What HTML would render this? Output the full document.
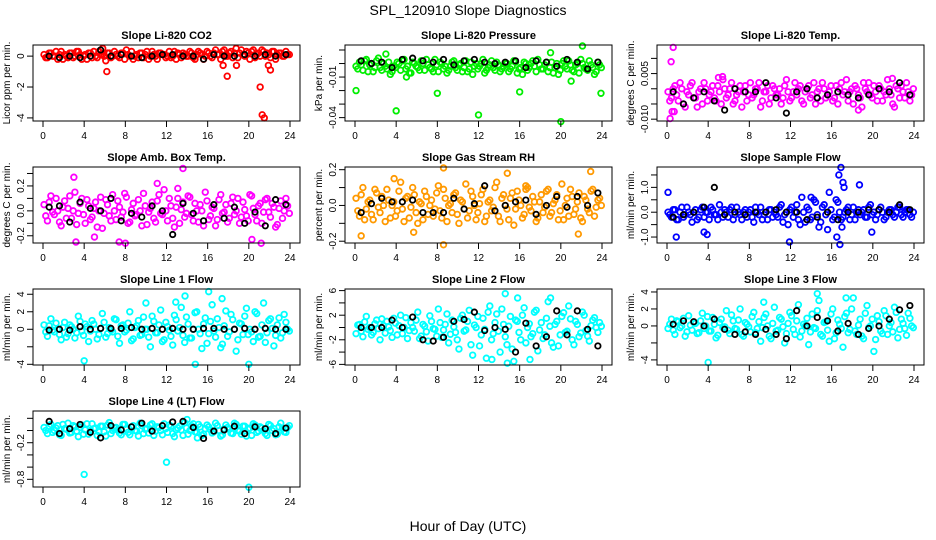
<!DOCTYPE html>
<html><head><meta charset="utf-8">
<style>
html,body{margin:0;padding:0;background:#fff;}
svg{display:block;font-family:"Liberation Sans",sans-serif;}
</style></head>
<body>
<svg id="chart" width="936" height="540" viewBox="0 0 936 540" xmlns="http://www.w3.org/2000/svg">
<text x="468" y="15" text-anchor="middle" font-size="14">SPL_120910  Slope Diagnostics</text>
<text x="468" y="531" text-anchor="middle" font-size="14">Hour of Day (UTC)</text>
</svg>
<script>
// ---- data (colored series on 20-minute grids, black series hourly) ----
const xTicks = [0,4,8,12,16,20,24];

const co2Vals = [0.1,-0.1,0.2,0.0,-0.2,0.3,0.1,-0.1,0.2,0.0,0.3,-0.2,0.1,0.2,-0.1,0.0,0.3,0.1,-0.3,0.2,0.0,0.1,-0.1,0.2,0.4,0.0,-0.2,0.1,0.2,-0.1,0.3,0.0,0.1,-0.2,0.2,0.1,0.0,-0.1,0.3,0.2,-0.1,0.1,0.0,0.2,-0.2,0.3,0.1,0.0,0.2,-0.1,0.4,0.1,0.3,0.0,0.2,-0.1,0.5,0.2,0.1,0.3,-0.2,0.4,0.1,0.0,0.3,0.2,-0.1,0.3,0.1,0.2,0.0,0.1];
const co2Vals2 = [-0.1,0.2,0.0,0.3,0.1,-0.2,0.0,0.2,-0.1,0.3,0.1,0.0,-0.2,0.2,0.3,-0.1,0.1,0.0,0.2,-0.1,0.3,0.0,0.2,-0.2,0.1,0.3,0.0,-0.1,0.2,0.1,-0.2,0.3,0.0,0.2,0.1,-0.1,0.3,0.0,-0.2,0.1,0.2,0.0,0.3,-0.1,0.1,0.2,-0.2,0.3,0.0,0.2,0.1,-0.2,0.4,0.0,0.3,0.2,-0.1,0.4,0.0,0.2,0.3,-0.1,0.2,0.4,0.0,0.1,0.3,-0.2,0.2,0.0,0.3,0.1];
const co2OutX = [5.8,6.2,17.5,17.9,18.8,21.1,21.3,21.5,21.9,22.1];
const co2OutY = [0.5,-1.0,-0.6,-1.3,-0.6,-2.0,-3.8,-4.0,-0.6,-0.9];
const co2Black = [0.0,-0.1,0.0,-0.1,0.0,0.4,0.0,0.1,0.0,-0.1,0.0,0.1,0.1,0.0,0.0,-0.2,0.1,0.0,0.0,0.1,0.0,0.1,0.0,0.1];

const presVals = [-2,1,-5,3,-1,-6,2,-3,0,-4,-8,-2,1,-5,3,-2,-7,0,-3,2,-5,-1,-4,3,-6,0,-2,-5,1,-3,-1,-6,2,-4,-8,0,-2,3,-5,-1,-3,1,-6,-2,0,-4,2,-7,-3,1,-5,0,-2,3,-4,-1,-6,1,-3,-8,0,-2,2,-5,-1,-7,0,-4,2,-3,-6,-1];
const presVals2 = [-4,-1,2,-6,0,-3,4,-5,-2,1,-6,-3,0,2,-4,-7,1,-2,-5,0,3,-3,-6,-1,1,-4,-7,-2,2,-5,0,-3,-6,1,-2,-4,0,-7,-3,2,-5,-1,-4,0,-6,-2,1,-4,-8,0,-3,2,-6,-1,-4,1,-3,-7,0,-5,2,-4,-1,-6,0,3,-3,-5,-1,-8,1,-3];
const presOutX = [0.1,4.0,8.0,12.0,16.0,20.0,22.1,23.9,3.0,19.0,21.0,5.0];
const presOutY = [-20,-35,-22,-38,-21,-43,13,-22,7,8,-13,-10];
const presBlack = [2,0,1,-3,3,4,2,1,3,-1,2,3,1,0,1,2,-3,2,1,-2,3,1,-4,1];

const tempVals = [-1,-3,1,-4,0,-6,-2,2,-3,-1,-5,0,-2,1,-4,-1,3,-3,0,-5,-2,1,-1,-4,2,-2,0,-6,-1,1,-3,0,-2,-5,1,-1,-3,2,0,-4,-1,1,-2,-5,0,2,-3,-1,-4,1,0,-2,3,-1,-5,0,-3,2,-1,-2,1,-4,0,-1,3,-2,-6,0,1,-3,-1,-2];
const tempVals2 = [-4,0,-2,2,-5,-1,1,-3,-6,0,2,-4,-1,-3,1,-5,0,-2,2,-4,-1,-6,1,-2,-3,0,2,-4,-1,-5,1,-2,0,-3,3,-4,-1,-2,1,-5,0,-3,2,-1,-4,0,-2,1,-3,-5,2,-1,-4,0,1,-2,-6,0,2,-3,-1,1,-4,-2,0,-5,1,-3,-1,2,-4,0];
const tempOutX = [0.3,0.4,0.6,5.0,5.4,21.9,0.5,0.7,18.6];
const tempOutY = [-9.8,8.9,13.6,3.7,4.0,3.4,-7.5,-7.5,-7.0];
const tempBlack = [-1,-5,-3,-1,-4,-7,0,-1,-1,2,-3,-8,-1,0,-3,-2,-1,-2,-3,-2,0,-1,2,-2];

const ambVals = [5,-8,12,-3,0,-12,8,2,-6,15,-2,10,-10,4,-5,7,0,-14,9,-4,13,-7,3,-1,11,-9,6,-3,0,14,-11,2,-6,8,-2,17,-8,4,-13,10,1,-5,12,-3,6,-9,0,15,-7,3,-12,9,-2,5,-6,11,0,-10,7,-4,13,2,-8,6,-1,10,-5,3,-11,8,0,4];
const ambVals2 = [-4,7,-1,10,-9,3,-6,12,0,-11,6,-3,9,-7,2,-13,11,-2,5,-8,0,8,-5,14,-10,1,-4,9,-12,4,-1,7,-9,13,-3,0,10,-6,3,-10,7,-2,11,-8,0,5,-12,8,-4,2,-7,13,-1,-9,6,-3,10,-5,1,-8,12,-3,4,-10,9,-1,6,-13,2,-6,10,-2];
const ambOutX = [3.0,13.6,11.1,20.3,21.2,8.0,5.0,3.2,13.1,7.4];
const ambOutY = [27,34,22,-23,-26,-26,-21,-25,18,-25];
const ambBlack = [3,4,-9,7,2,0,10,-8,-2,-5,4,0,-19,6,-2,-8,5,-6,3,-10,-1,-12,9,5];

const rhVals = [4,-6,10,-2,3,-8,7,-4,0,9,-7,2,-3,13,-9,5,-1,6,-10,1,8,-5,3,-2,11,-7,4,0,-4,7,-10,2,12,-3,5,-8,1,9,-6,3,-1,13,-9,6,-2,4,-11,8,0,-5,10,-3,2,-7,6,-1,9,-4,3,-8,12,0,-6,5,-2,7,-9,3,-4,9,-1,4];
const rhVals2 = [-3,6,-8,2,-5,9,-1,5,-9,3,0,-6,8,-2,4,-7,10,-4,2,-8,5,0,-6,7,-3,9,-9,1,6,-5,3,-2,-7,8,0,-4,6,-9,2,-3,10,-6,4,0,-8,7,-2,3,-7,9,-1,5,-9,2,-4,8,-6,1,6,-3,-8,4,9,-5,2,-7,5,-2,8,-6,3,0];
const rhOutX = [0.6,8.6,8.6,5.7,22.9,21.7,3.8,16.6,14.8];
const rhOutY = [-17,21,-22,-15,19,-16,15,11,18];
const rhBlack = [-4,1,4,2,2,3,-4,-4,-4,4,-2,1,11,-3,0,2,3,-5,0,5,-1,5,0,7];

const sfVals = [0,-2,1,-3,2,-1,0,-4,1,-2,2,0,-3,1,-1,3,-2,0,1,-3,2,-1,0,-2,1,-4,0,2,-1,-3,1,0,-2,3,-1,-5,2,0,-3,6,-4,1,-2,4,-6,2,-1,8,-3,5,0,-2,1,-3,2,0,-1,1,-2,3,0,-1,2,-3,0,1,-2,2,-1,0,1,-2];
const sfVals2 = [-1,1,-3,0,-2,2,-1,0,-3,1,-2,0,2,-1,-3,0,1,-2,2,-1,0,-3,1,0,-2,2,-1,-3,0,1,-2,-1,2,-4,0,1,-2,3,-5,0,2,-3,5,-1,-4,3,-7,1,-2,4,-3,0,2,-1,-3,1,0,-2,2,-1,-3,1,0,-2,1,-1,0,2,-2,1,-1,0];
const sfOutX = [0.1,0.9,3.6,3.9,11.9,16.9,16.7,17.1,16.8,17.2,18.7,19.9,14.0,17.0,16.5];
const sfOutY = [8,-10,-8,-9,-12,18,15,12,-13,10,11,-8,6,-6,-10];
const sfBlack = [-2,-1,0,2,10,-1,0,-1,0,0,1,0,0,-3,-2,0,-3,0,0,1,1,0,3,1];

const l1Vals = [5,-8,12,-3,0,-12,8,-5,3,-10,15,-2,6,-14,10,0,-6,18,-9,2,-3,11,-16,5,-1,20,-11,4,-7,14,0,-20,9,-4,22,-12,3,-8,16,-2,25,-15,6,-10,19,0,-22,13,-5,28,-9,2,-17,21,-3,11,-25,7,-6,24,0,-14,18,-8,30,-4,12,-19,5,-10,17,0];
const l1Vals2 = [-3,4,-1,7,-6,2,-9,5,0,-4,9,-7,3,-2,6,-11,1,8,-5,-1,12,-8,4,-3,7,-13,2,10,-6,0,-9,15,-4,5,-14,8,-1,-18,11,2,-7,14,-10,0,20,-5,6,-16,9,-2,12,-21,4,-8,17,0,-12,6,15,-6,-3,20,-9,5,-15,10,1,-7,13,-4,8,-2];
const l1OutX = [4.0,13.8,14.8,16.1,20.0,10.0,17.4,12.9];
const l1OutY = [-36,38,-40,43,-40,30,35,31];
const l1Black = [-1,0,-1,3,0,1,1,1,2,0,1,0,1,0,0,1,1,0,0,1,0,1,0,0];

const l2Vals = [-10,5,-15,18,0,-8,12,-20,3,10,-5,15,-12,20,0,-18,8,-6,25,-14,2,-22,10,-3,30,-16,5,-25,12,-8,-35,20,-4,28,-45,0,-30,15,-50,35,-10,22,-40,5,-28,18,-55,10,-20,32,0,-15,25,-38,8,-12,42,-25,5,-30,18,-8,35,-20,10,-15,25,-5,-22,12,0,8];
const l2Vals2 = [4,-6,9,-3,-12,6,-2,14,-9,1,-16,7,3,-10,16,-5,0,12,-18,5,-7,19,-2,-14,8,-4,22,-11,1,-20,15,-6,10,-28,4,18,-12,-3,25,-20,8,-6,30,-15,2,-35,12,-8,20,-25,6,-10,28,-4,-18,15,2,-32,10,-12,24,-6,14,-28,5,-9,20,-14,3,16,-8,2];
const l2OutX = [14.6,14.8,13.3,15.8,19.0,17.0];
const l2OutY = [55,-58,-52,48,48,-52];
const l2Black = [0,0,0,12,0,17,-20,-22,-16,10,13,25,-5,0,-3,-40,7,-30,-15,27,-12,27,-3,-30];

const l3Vals = [-3,8,-10,5,0,-12,12,-5,3,-8,15,0,-6,10,-14,4,-2,18,-9,6,-4,20,-12,2,-7,16,-3,-18,10,0,-15,22,-5,8,-20,3,12,-10,25,-6,0,-22,14,-3,30,-12,5,-18,20,-8,2,-25,15,-4,33,-10,8,-15,24,0,-30,12,-6,18,-10,4,22,-14,8,-3,15,0];
const l3Vals2 = [2,-5,6,-2,9,-7,1,4,-9,6,-3,11,-6,2,-11,8,-1,-5,13,-3,7,-10,4,-1,11,-8,5,-2,14,-12,3,-6,10,-1,-9,16,-4,6,-13,2,9,-7,-2,18,-10,4,-5,14,-15,7,-3,11,-8,20,-6,1,-12,15,-2,8,-16,5,-9,12,0,-7,16,-4,3,-11,9,-2];
const l3OutX = [4.0,14.6,17.4,9.4];
const l3OutY = [-43,38,33,28];
const l3Black = [2,6,5,0,8,-4,-10,-7,-10,-4,-10,-15,18,0,10,6,-6,3,-10,-3,0,8,19,24];

const l4Vals = [5,-5,10,0,8,-8,3,12,-3,6,-10,9,1,-6,11,4,-2,7,-9,13,0,5,-4,10,2,-7,8,-1,12,-5,3,9,-8,6,0,11,-3,7,-10,4,1,13,-6,8,-2,10,-8,3,6,-4,12,0,-7,9,2,-5,10,-1,7,-9,4,11,-3,6,0,-8,8,3,-6,12,-2,5];
const l4Vals2 = [0,7,-3,4,-7,10,2,-4,8,-1,5,-6,11,0,3,-8,7,-2,9,-5,4,1,-7,10,-3,6,0,-9,8,2,-4,11,-1,5,-7,3,9,-5,1,7,-8,4,0,11,-3,6,-6,9,1,-2,8,-9,3,5,-4,12,0,-6,7,2,-8,9,-1,4,-5,10,0,-7,6,3,-3,8];
const l4OutX = [4.0,12.0,20.0,14.0,15.0];
const l4OutY = [-72,-52,-93,18,-12];
const l4Black = [15,-5,3,10,-3,-12,8,1,6,12,-1,8,14,15,5,-13,-1,1,7,-5,6,3,-5,4];

const panels = [
 {name:'co2',title:'Slope Li-820 CO2',ylab:'Licor ppm per min.',col:0,row:0,color:'#ff0000',scale:1,ymin:-4.2,ymax:0.72,ticks:[0,-2,-4],labels:['0','-2','-4'],vals:co2Vals,vals2:co2Vals2,ox:co2OutX,oy:co2OutY,blk:co2Black},
 {name:'pressure',title:'Slope Li-820 Pressure',ylab:'kPa per min.',col:1,row:0,color:'#00ee00',scale:0.001,ymin:-0.0425,ymax:0.0137,ticks:[0.01,0,-0.01,-0.02,-0.03,-0.04],labels:['','','-0.01','','','-0.04'],vals:presVals,vals2:presVals2,ox:presOutX,oy:presOutY,blk:presBlack},
 {name:'temp',title:'Slope Li-820 Temp.',ylab:'degrees C per min.',col:2,row:0,color:'#ff00ff',scale:0.001,ymin:-0.0106,ymax:0.0144,ticks:[0.01,0.005,0,-0.005,-0.01],labels:['','0.005','','','-0.010'],vals:tempVals,vals2:tempVals2,ox:tempOutX,oy:tempOutY,blk:tempBlack},
 {name:'amb-box',title:'Slope Amb. Box Temp.',ylab:'degrees C per min.',col:0,row:1,color:'#ff00ff',scale:0.01,ymin:-0.258,ymax:0.352,ticks:[0.3,0.2,0.1,0,-0.1,-0.2],labels:['','0.2','','0.0','','-0.2'],vals:ambVals,vals2:ambVals2,ox:ambOutX,oy:ambOutY,blk:ambBlack},
 {name:'gas-rh',title:'Slope Gas Stream RH',ylab:'percent per min.',col:1,row:1,color:'#ff9900',scale:0.01,ymin:-0.21,ymax:0.215,ticks:[0.2,0.1,0,-0.1,-0.2],labels:['0.2','','0.0','','-0.2'],vals:rhVals,vals2:rhVals2,ox:rhOutX,oy:rhOutY,blk:rhBlack},
 {name:'sample-flow',title:'Slope Sample Flow',ylab:'ml/min per min.',col:2,row:1,color:'#0000ff',scale:0.1,ymin:-1.24,ymax:1.82,ticks:[1.5,1,0.5,0,-0.5,-1],labels:['','1.0','','0.0','','-1.0'],vals:sfVals,vals2:sfVals2,ox:sfOutX,oy:sfOutY,blk:sfBlack},
 {name:'line1',title:'Slope Line 1 Flow',ylab:'ml/min per min.',col:0,row:2,color:'#00ffff',scale:0.1,ymin:-4.08,ymax:4.6,ticks:[4,2,0,-2,-4],labels:['4','2','0','','-4'],vals:l1Vals,vals2:l1Vals2,ox:l1OutX,oy:l1OutY,blk:l1Black},
 {name:'line2',title:'Slope Line 2 Flow',ylab:'ml/min per min.',col:1,row:2,color:'#00ffff',scale:0.1,ymin:-6.1,ymax:6.26,ticks:[6,4,2,0,-2,-4,-6],labels:['6','','2','','-2','','-6'],vals:l2Vals,vals2:l2Vals2,ox:l2OutX,oy:l2OutY,blk:l2Black},
 {name:'line3',title:'Slope Line 3 Flow',ylab:'ml/min per min.',col:2,row:2,color:'#00ffff',scale:0.1,ymin:-4.6,ymax:4.35,ticks:[4,2,0,-2,-4],labels:['4','2','0','','-4'],vals:l3Vals,vals2:l3Vals2,ox:l3OutX,oy:l3OutY,blk:l3Black},
 {name:'line4',title:'Slope Line 4 (LT) Flow',ylab:'ml/min per min.',col:0,row:3,color:'#00ffff',scale:0.01,ymin:-0.926,ymax:0.32,ticks:[0.2,0,-0.2,-0.4,-0.6,-0.8],labels:['','','-0.2','','','-0.8'],vals:l4Vals,vals2:l4Vals2,ox:l4OutX,oy:l4OutY,blk:l4Black}
];

const NS='http://www.w3.org/2000/svg';
const svg=document.getElementById('chart');
function mk(tag,attrs,parent){const e=document.createElementNS(NS,tag);for(const k in attrs)e.setAttribute(k,attrs[k]);(parent||svg).appendChild(e);return e;}
const colX=[33,345,657], rowY=[45,167,289,411], W=267, H=76;

panels.forEach(p=>{
  const L=colX[p.col], T=rowY[p.row];
  const g=mk('g',{});
  
  
  const xs=h=>L+10+h*(W-20)/24;
  const ys=v=>T+(p.ymax-v)/(p.ymax-p.ymin)*H;
  const title=mk('text',{x:L+W/2,y:T-6,'text-anchor':'middle','font-size':'11','font-weight':'bold'},g);
  title.textContent=p.title;
  
  
  const yl=mk('text',{transform:`translate(${L-23},${T+H/2}) rotate(-90)`,'text-anchor':'middle','font-size':'10'},g);
  yl.textContent=p.ylab;
  
  
  const cg=mk('g',{fill:'none',stroke:p.color,'stroke-width':'1.8'},g);
  
  
  p.vals.forEach((v,i)=>{
    const c=mk('circle',{cx:xs(0.1+i/3),cy:ys(v*p.scale),r:2.8},cg);
    
    
  });
  p.vals2.forEach((v,i)=>{
    const c=mk('circle',{cx:xs(0.27+i/3),cy:ys(v*p.scale),r:2.8},cg);
    
    
  });
  p.ox.forEach((h,i)=>{
    const c=mk('circle',{cx:xs(h),cy:ys(p.oy[i]*p.scale),r:2.8},cg);
    
    
  });
  const bg=mk('g',{fill:'none',stroke:'#000','stroke-width':'1.8'},g);
  
  
  p.blk.forEach((v,i)=>{
    const c=mk('circle',{cx:xs(0.6+i),cy:ys(v*p.scale),r:2.7},bg);
    
    
  });
  const box=mk('rect',{x:L,y:T,width:W,height:H,fill:'none',stroke:'#000','stroke-width':'1'},g);
  
  
  const xa=mk('g',{stroke:'#000','stroke-width':'1'},g);
  
  
  xTicks.forEach(t=>{
    mk('line',{x1:xs(t),x2:xs(t),y1:T+H,y2:T+H+6},xa);
    const tx=mk('text',{x:xs(t),y:T+H+18,'text-anchor':'middle','font-size':'10',stroke:'none'},xa);
    tx.textContent=t;
    
    
  });
  const ya=mk('g',{stroke:'#000','stroke-width':'1'},g);
  
  
  p.ticks.forEach((t,i)=>{
    const y=ys(t);
    mk('line',{x1:L-6,x2:L,y1:y,y2:y},ya);
    if(p.labels[i]){
      const tx=mk('text',{transform:`translate(${L-9},${y}) rotate(-90)`,'text-anchor':'middle','font-size':'10',stroke:'none'},ya);
      tx.textContent=p.labels[i];
      
      
    }
  });
});
</script>
</body></html>
